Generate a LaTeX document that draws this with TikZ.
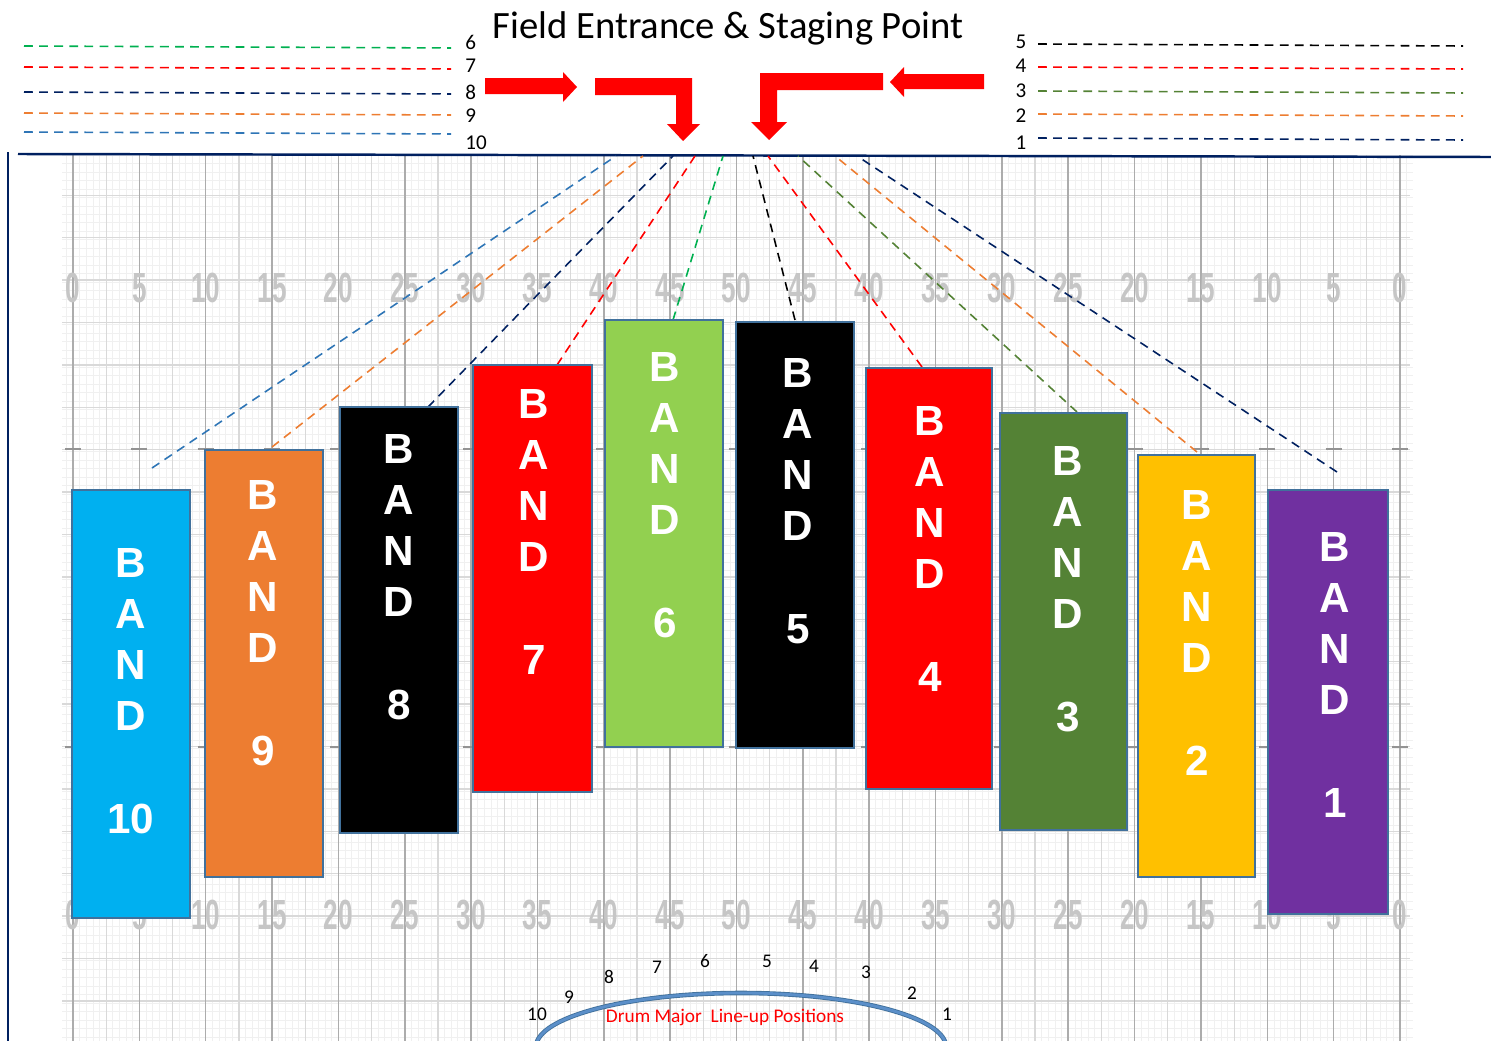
\documentclass[tikz,border=0pt]{standalone}
\usepackage{fontspec}
\setmainfont{Carlito}
\newfontfamily\bandfont{Liberation Sans}
\usetikzlibrary{fit}
\definecolor{navy}{HTML}{002060}
\definecolor{edge}{HTML}{41719C}
\definecolor{arcblue}{HTML}{5B8FC9}
\definecolor{bandblue}{HTML}{00B0F0}
\definecolor{bandorange}{HTML}{ED7D31}
\definecolor{bandred}{HTML}{FF0000}
\definecolor{bandlime}{HTML}{92D050}
\definecolor{bandgreen}{HTML}{548235}
\definecolor{bandyellow}{HTML}{FFC000}
\definecolor{bandpurple}{HTML}{7030A0}
\definecolor{dashgreen}{HTML}{00B050}
\definecolor{dashblue}{HTML}{2E75B6}

\begin{document}
\begin{tikzpicture}[x=0.02cm,y=-0.02cm,
  band/.style={draw=edge,line width=0.8pt,inner sep=0pt},
  bandtext/.style={text=white,align=center,inner sep=0pt,anchor=north,font=\bandfont\bfseries\fontsize{24}{29.1}\selectfont},
  route/.style={dash pattern=on 5pt off 3.6pt,line width=0.9pt},
  yardno/.style={text=gray!45,inner sep=0pt,font=\bandfont\bfseries\fontsize{24}{24}\selectfont},
  small/.style={inner sep=0pt,font=\fontsize{11}{13}\selectfont},
  legendno/.style={inner sep=0pt,font=\fontsize{12}{14}\selectfont}]
\useasboundingbox (0,0) rectangle (1491,1041);
\begin{scope}
\clip (0,155) rectangle (1491,1041);
\foreach \k in {-1,...,201} \draw[gray!12,line width=0.4pt] ({73+6.635*\k},155) -- ({73+6.635*\k},1041);
\foreach \k in {0,...,104} \draw[gray!12,line width=0.4pt] (62,{155+8.48*\k}) -- (1413,{155+8.48*\k});
\foreach \k in {0,...,19} \draw[gray!30,line width=0.7pt] ({106.2+66.35*\k},155) -- ({106.2+66.35*\k},1041);
\foreach \k in {0,...,19} \draw[gray!30,line width=0.8pt] (62,{195.3+42.4*\k}) -- (1410,{195.3+42.4*\k});
\foreach \k in {0,...,20} {
  \draw[gray!65,line width=0.9pt] ({73+66.35*\k},155) -- ({73+66.35*\k},1041);
  \draw[gray!85,line width=1.2pt] ({65+66.35*\k},449) -- ({81+66.35*\k},449) ({65+66.35*\k},747) -- ({81+66.35*\k},747);
  \pgfmathtruncatemacro{\yd}{5*(10-abs(10-\k))}
  \node[yardno] (ya\k) at ({73+66.35*\k},288) {\scalebox{0.62}[1]{\yd}};
  \node[yardno] (yb\k) at ({73+66.35*\k},915) {\scalebox{0.62}[1]{\yd}};
}
\end{scope}
\draw[navy,line width=1.4pt] (18,154) -- (1491,157);
\draw[navy,line width=1.1pt] (8,152) -- (8,1041);
\node (title) at (728,28) {\fontsize{22}{26}\selectfont Field Entrance \& Staging Point};
\foreach \n/\y/\ly/\c in {6/46/42/dashgreen,7/67/66/red,8/92/92/navy,9/113/116/bandorange,10/132/143/dashblue} {
  \coordinate (la\n) at (24,\y);
  \coordinate (lb\n) at (451,\y+2);
  \draw[route,\c] (la\n) -- (lb\n);
  \node[legendno,anchor=west] (ln\n) at (465,\ly) {\n};
}
\foreach \n/\y/\ly/\c in {5/44/42/black,4/67/66/red,3/91/91/bandgreen,2/114/116/bandorange,1/138/143/navy} {
  \coordinate (ra\n) at (1038,\y);
  \coordinate (rb\n) at (1463,\y+2);
  \draw[route,\c] (ra\n) -- (rb\n);
  \node[legendno] (rn\n) at (1021,\ly) {\n};
}
\fill[red] (485,78) -- (563,78) -- (563,72) -- (577,87) -- (563,102) -- (563,94) -- (485,94) -- cycle;
\fill[red] (595,78) -- (692,78) -- (692,124) -- (700,124) -- (683,141) -- (667,124) -- (676,124) -- (676,95) -- (595,95) -- cycle;
\fill[red] (883,73) -- (760,73) -- (760,122) -- (751,122) -- (769,140) -- (787,122) -- (777,122) -- (777,90) -- (883,90) -- cycle;
\fill[red] (984,74) -- (904,74) -- (904,67) -- (890,82) -- (904,97) -- (904,89) -- (984,89) -- cycle;
\foreach \n/\dx/\dy/\ex/\c in {10/152/468/616/dashblue,9/272/447/643/bandorange,8/428/407/673/navy,7/557/365/695/red,6/673/320/723/dashgreen,5/795/320/753/black,4/922/367/768/red,3/1077/412/798/bandgreen,2/1197/452/835/bandorange,1/1337/472/857/navy} {
  \coordinate (d\n) at (\dx,\dy);
  \coordinate (e\n) at (\ex,156);
  \draw[route,\c] (d\n) -- (e\n);
}
\foreach \n/\l/\t/\r/\b/\c/\tx/\ty in {10/72/490/190/918/bandblue/131/548,9/205/450/323/877/bandorange/263/480,8/340/407/458/833/black/399/434,7/473/365/592/792/bandred/534/389,6/605/320/723/747/bandlime/665/352,5/736/322/854/748/black/798/358,4/866/368/992/789/bandred/930/406,3/1000/413/1127/830/bandgreen/1068/446,2/1138/455/1255/877/bandyellow/1197/490,1/1268/490/1388/914/bandpurple/1335/532} {
  \node[band,fill=\c,fit={(\l,\t) (\r,\b)}] (b\n) {};
  \node[bandtext] (t\n) at (\tx,\ty) {B\\A\\N\\D\\[29.1pt]\n};
}
\begin{scope}
\clip (0,0) rectangle (1491,1041);
\draw[edge,line width=2.6pt] (741,1047) ellipse [x radius=205,y radius=54];
\draw[arcblue,line width=1.6pt] (741,1047) ellipse [x radius=205,y radius=54];
\end{scope}
\foreach \n/\x/\y in {10/537/1014,9/569/997,8/609/977,7/657/967,6/705/961,5/767/961,4/814/966,3/866/972,2/912/993,1/947/1014}
  \node[small] (p\n) at (\x,\y) {\n};
\node[small,text=red] (dm) at (725,1017) {Drum Major\ \ Line-up Positions};
\end{tikzpicture}
\end{document}
